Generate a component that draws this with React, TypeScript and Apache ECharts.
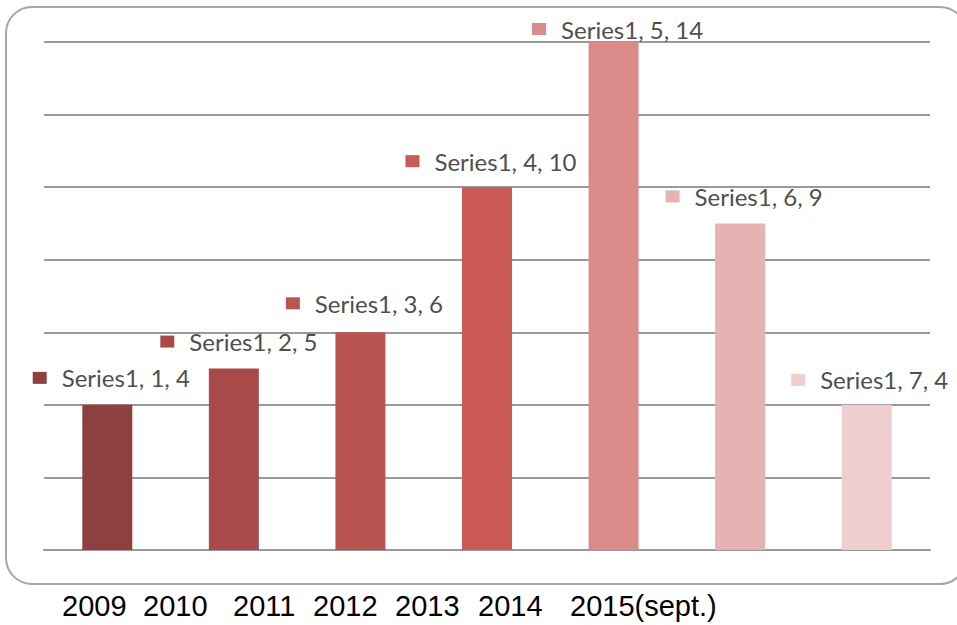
import React, { useEffect, useRef } from "react";
import * as echarts from "echarts";

const seriesName = "Series1";
const categories = ["1", "2", "3", "4", "5", "6", "7"];
const values = [4, 5, 6, 10, 14, 9, 4];
const barColors = ["#8E4040", "#A84A4A", "#BA5450", "#CB5A55", "#D98B89", "#E6B2B2", "#EFCED0"];
const yearLabels = ["2009", "2010", "2011", "2012", "2013", "2014", "2015(sept.)"];

// styling: label nudges [dx, dy] and year-label x positions
const labelNudges: [number, number][] = [[4, -10], [5, -10], [4, -12], [4, -9], [4, 4], [4, -10], [3, -8]];
const yearX = [62, 143, 233, 313, 395, 478, 570];

export default function App() {
  const ref = useRef<HTMLDivElement>(null);
  useEffect(() => {
    if (!ref.current) return;
    const chart = echarts.init(ref.current, undefined, { renderer: "svg" });
    const data = values.map((v, i) => ({
      value: v,
      itemStyle: { color: barColors[i] },
      label: {
        offset: labelNudges[i],
        formatter: `{m|}{t|${seriesName}, ${categories[i]}, ${v}}`,
        rich: {
          m: { width: 14, height: 12, backgroundColor: barColors[i] },
          t: { padding: [0, 0, 0, 15], fontSize: 24, color: "#4f4f4f", fontFamily: "Lato" },
        },
      },
    }));
    chart.setOption({
      animation: false,
      backgroundColor: "#fff",
      grid: { left: 44, right: 27, top: 42, bottom: 75, containLabel: false },
      xAxis: {
        type: "category",
        data: categories,
        axisLine: { show: true, lineStyle: { color: "#999", width: 2 } },
        axisTick: { show: false },
        axisLabel: { show: false },
      },
      yAxis: {
        type: "value",
        min: 0,
        max: 14,
        interval: 2,
        axisLine: { show: false },
        axisTick: { show: false },
        axisLabel: { show: false },
        splitLine: { lineStyle: { color: "#999", width: 2 } },
      },
      series: [
        {
          type: "bar",
          name: seriesName,
          data,
          barWidth: 50,
          label: { show: true, position: "top", distance: 5 },
        },
      ],
      graphic: [
        {
          type: "rect",
          shape: { x: 6, y: 7, width: 960, height: 577, r: 26 },
          style: { fill: "none", stroke: "#a6a6a6", lineWidth: 2 },
          z: -1,
          silent: true,
        },
        ...yearLabels.map((t, i) => ({
          type: "text",
          x: yearX[i],
          y: 606,
          style: {
            text: t,
            fill: "#000",
            font: "normal 29px 'Liberation Sans', Arial, sans-serif",
            verticalAlign: "middle",
          },
        })),
      ],
    });
    return () => chart.dispose();
  }, []);
  return <div ref={ref} style={{ width: 957, height: 625, position: "fixed", left: 0, top: 0 }} />;
}
